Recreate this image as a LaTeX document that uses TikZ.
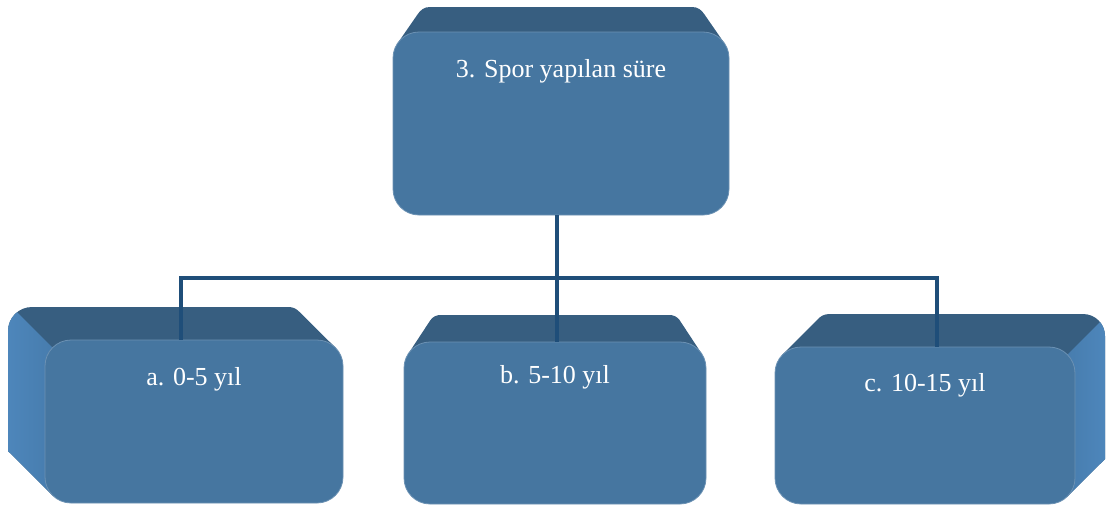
\documentclass[tikz,border=0pt]{standalone}
\usepackage{fontspec}
\setmainfont{Liberation Serif}
\definecolor{frontc}{RGB}{70,118,160}
\definecolor{topc}{RGB}{55,94,128}
\definecolor{sidec}{RGB}{80,138,192}
\definecolor{sidein}{RGB}{68,120,168}
\definecolor{linec}{RGB}{31,78,121}
\begin{document}
\begin{tikzpicture}[x=1pt,y=-1pt,
  frontface/.style={rectangle, rounded corners=26, fill=frontc, draw=frontc!80!white, line width=0.8, inner sep=0},
  topface/.style={fill=topc},
  lbl/.style={text=white, font=\fontsize{26}{30}\selectfont, inner sep=0},
  conn/.style={draw=linec, line width=4}]
\useasboundingbox (0,0) rectangle (1107,506);
% top box
\fill[topface] (397.7,43.1) -- (417.5,14.5) .. controls (420.5,10) and (424,7) .. (430,7) -- (692,7) .. controls (698,7) and (701.5,10) .. (704.5,14.5) -- (724.3,43.1) -- (703,58) -- (419,58) -- cycle;
\node[frontface, minimum width=336, minimum height=183] (top) at (561,123.5) {};
\node[lbl] (ttop) at (561,71) {3. Spor yapılan süre};
% box a
\begin{scope}
\clip (8,451) -- (8,331) .. controls (8,317.7) and (18.7,307) .. (32,307) -- (288,307) .. controls (293,307) and (296,308.5) .. (299,311.5) -- (335.4,347.6) -- (317,366) -- (71,477) -- (52.6,495.4) -- cycle;
\fill[topface] (0,300) rectangle (350,506);
\shade[left color=sidec, right color=sidein] (-10,285) -- (52.6,347.6) -- (71,366) -- (71,477) -- (52.6,495.4) -- (-10,506) -- cycle;
\end{scope}
\node[frontface, minimum width=298, minimum height=163] (a) at (194,421.5) {};
\node[lbl] (ta) at (194,379) {a. 0-5 yıl};
% box b
\fill[topface] (408.4,353.6) -- (430.5,320) .. controls (433.5,316.5) and (436,315) .. (441,315) -- (669,315) .. controls (674,315) and (676.5,316.5) .. (679.5,320) -- (701.6,353.6) -- (680,368) -- (430,368) -- cycle;
\node[frontface, minimum width=302, minimum height=162] (b) at (555,423) {};
\node[lbl] (tb) at (555,377) {b. 5-10 yıl};
% box c
\begin{scope}
\clip (782.6,354.6) -- (818,319) .. controls (821,316) and (824,314) .. (830,314) -- (1083,314) .. controls (1095.2,314) and (1105,323.8) .. (1105,336) -- (1105,459) -- (1067.4,496.4) -- (1049,478) -- (801,373) -- cycle;
\fill[topface] (770,300) rectangle (1110,506);
\shade[left color=sidein, right color=sidec] (1120,302) -- (1067.4,354.6) -- (1049,373) -- (1049,478) -- (1067.4,496.4) -- (1120,506) -- cycle;
\end{scope}
\node[frontface, minimum width=300, minimum height=157] (c) at (925,425.5) {};
\node[lbl] (tc) at (925,385) {c. 10-15 yıl};
% connectors
\coordinate (ja) at (181,278);
\coordinate (jb) at (557,278);
\coordinate (jc) at (937,278);
\draw[conn] (top.south -| jb) -- (jb);
\draw[conn] ([xshift=-2]ja) -- ([xshift=2]jc);
\draw[conn] (ja) -- (ja |- a.north);
\draw[conn] (jb) -- (jb |- b.north);
\draw[conn] (jc) -- (jc |- c.north);
\end{tikzpicture}
\end{document}
